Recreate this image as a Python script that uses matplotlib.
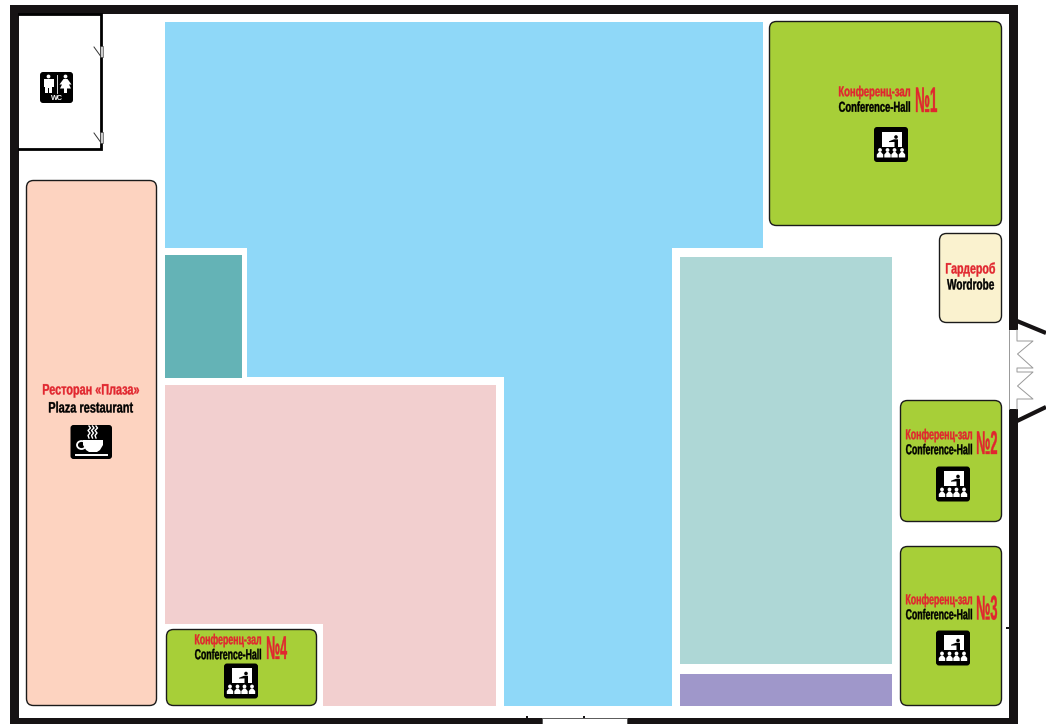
import matplotlib
matplotlib.use('Agg')
import matplotlib.pyplot as plt
from matplotlib.patches import Polygon, Rectangle, FancyBboxPatch, Circle, Ellipse
from matplotlib.text import Text
from matplotlib.textpath import TextPath
from matplotlib.transforms import Affine2D, Bbox
from matplotlib.colors import to_rgba

RED = '#e1262f'
GREEN = '#a7cf38'
WALL = '#161314'

# flat areas, pixel outline of the plan
blue_hall = [(165, 22), (763, 22), (763, 248), (672, 248), (672, 706), (504, 706),
             (504, 377), (247, 377), (247, 248), (165, 248)]
pink_hall = [(165, 385), (496, 385), (496, 706), (323, 706), (323, 624), (165, 624)]
flat_rects = [(165, 255, 77, 123, '#64b3b6'),
              (680, 257, 212, 407, '#aed7d6'),
              (680, 674, 212, 32, '#9f97ca')]

# rounded rooms: x, y, w, h, colour
rooms = [(769, 21, 233, 205, GREEN),
         (900, 400, 102, 122, GREEN),
         (900, 546, 102, 160, GREEN),
         (166, 629, 151, 77, GREEN),
         (939, 233, 63, 90, '#faf2cf'),
         (26, 180, 131, 526, '#fdd3c0')]

# hall labels: text left, text right, red y, black y, number
hall_labels = [(839, 910, 91, 106.5, '№1'),
               (906, 972, 434, 449, '№2'),
               (906, 972, 599, 614, '№3'),
               (195, 261, 639, 654, '№4')]
# number: left, right, y centre, height
hall_numbers = [(916, 937, 99, 26), (977, 997, 442, 24), (977, 997, 607, 25), (267, 287, 647, 24)]
hall_icons = [(891, 144.5), (953, 484), (953, 648), (241, 681)]


class TallText(Text):
    # no condensed font here: size the text to its width, then stretch it up to the cap height
    def __init__(self, x0, x1, y, s, cap=10.5, **kw):
        self.x0, self.x1, self.cap = x0, x1, cap
        kw.setdefault('fontweight', 'bold')
        kw.setdefault('family', 'Liberation Sans')
        super().__init__((x0 + x1) / 2, y, s, ha='center', va='center', **kw)
        unit = TextPath((0, 0), s, size=100, prop=self.get_fontproperties()).get_extents().width / 100
        self.set_fontsize((x1 - x0) / unit * 0.72)

    def _box(self):
        px = self.get_fontsize() * 100 / 72
        path = TextPath((0, 0), self.get_text(), size=px, prop=self.get_fontproperties())
        ext = path.get_extents()
        sy = self.cap / (0.729 * px)
        xa = self.get_transform().transform((self.x0, self.get_position()[1]))
        return path, sy, xa[0] - ext.x0, xa[1] - self.cap / 2

    def draw(self, renderer):
        path, sy, tx, ty = self._box()
        gc = renderer.new_gc()
        gc.set_foreground(self.get_color())
        gc.set_linewidth(0.25)
        renderer.draw_path(gc, path, Affine2D().scale(1, sy).translate(tx, ty), to_rgba(self.get_color()))
        gc.restore()

    def get_window_extent(self, renderer=None, dpi=None):
        path, sy, tx, ty = self._box()
        ext = path.get_extents()
        return Bbox.from_extents(tx + ext.x0, ty + ext.y0 * sy, tx + ext.x1, ty + ext.y1 * sy)


fig = plt.figure(figsize=(10.46, 7.24), dpi=100)
ax = fig.add_axes([0, 0, 1, 1])
ax.set_xlim(0, 1046)
ax.set_ylim(724, 0)
ax.axis('off')


def label(x0, x1, y, s, color, cap=10.5):
    t = TallText(x0, x1, y, s, cap=cap, color=color, zorder=6)
    t.set_transform(ax.transData)
    ax.add_artist(t)


def black_box(x0, y0, x1, y1):
    ax.add_patch(FancyBboxPatch((x0 + 3, y0 + 3), x1 - x0 - 6, y1 - y0 - 6,
                                boxstyle='round,pad=3,rounding_size=3', fc='black', ec='none', zorder=5))


def shape(points, color='white', z=6):
    ax.add_patch(Polygon(points, fc=color, ec='none', zorder=z))


def hall_icon(cx, cy):
    black_box(cx - 17, cy - 17.5, cx + 17, cy + 17.5)
    shape([(cx - 9.5, cy - 13), (cx + 10.5, cy - 13), (cx + 10.5, cy + 2), (cx - 9.5, cy + 2)])
    ax.add_patch(Circle((cx + 5, cy - 7.5), 1.8, fc='black', ec='none', zorder=7))
    shape([(cx - 2, cy - 3.2), (cx + 3, cy - 5.2), (cx + 7, cy - 5.2), (cx + 7, cy + 2.5),
           (cx + 3.5, cy + 2.5), (cx + 3.5, cy - 2.6), (cx - 2, cy - 2.4)], 'black', 7)
    for dx in (-11, -3.5, 3.5, 11):
        ax.add_patch(Circle((cx + dx, cy + 5.5), 1.9, fc='white', ec='none', zorder=6))
        shape([(cx + dx - 3.2, cy + 13), (cx + dx - 3.2, cy + 10), (cx + dx - 1, cy + 7.5),
               (cx + dx + 1, cy + 7.5), (cx + dx + 3.2, cy + 10), (cx + dx + 3.2, cy + 13)])


def coffee_icon(cx, cy):
    black_box(cx - 20.5, cy - 17, cx + 21, cy + 17)
    shape([(cx - 8, cy - 2), (cx + 12, cy - 2), (cx + 12, cy + 3), (cx + 9, cy + 8), (cx + 6, cy + 10),
           (cx - 2, cy + 10), (cx - 5, cy + 8), (cx - 8, cy + 3)])
    ax.add_patch(Ellipse((cx - 9.5, cy + 3), 9, 8, fc='none', ec='white', lw=1.3, zorder=6))
    ax.plot([cx - 15, cx + 16], [cy + 13, cy + 13], color='white', lw=1.4, zorder=6)
    for dx in (-2, 1.5, 5):
        ax.plot([cx + dx + v for v in (0, 1.5, -1, 1, -1, 0)],
                [cy - 16, cy - 14, cy - 11.5, cy - 9, cy - 6.5, cy - 4], color='white', lw=1.0, zorder=6)


def wc_icon(cx, cy):
    black_box(cx - 16.5, cy - 15.5, cx + 16.5, cy + 15.5)
    ax.plot([cx + 0.5, cx + 0.5], [cy - 12.5, cy + 5.5], color='white', lw=0.6, zorder=6)
    # man
    ax.add_patch(Circle((cx - 8, cy - 11), 1.9, fc='white', ec='none', zorder=6))
    shape([(cx - 13, cy - 8.5), (cx - 3, cy - 8.5), (cx - 3, cy - 1), (cx - 4.5, cy - 1), (cx - 4.5, cy + 5.5),
           (cx - 7.5, cy + 5.5), (cx - 7.5, cy + 0), (cx - 8.5, cy + 0), (cx - 8.5, cy + 5.5),
           (cx - 11.5, cy + 5.5), (cx - 11.5, cy - 1), (cx - 13, cy - 1)])
    # woman
    ax.add_patch(Circle((cx + 9, cy - 11), 1.9, fc='white', ec='none', zorder=6))
    shape([(cx + 7, cy - 8.5), (cx + 11, cy - 8.5), (cx + 15, cy - 3), (cx + 12.5, cy - 3), (cx + 14.5, cy + 1),
           (cx + 10.5, cy + 1), (cx + 10.5, cy + 5.5), (cx + 7.5, cy + 5.5), (cx + 7.5, cy + 1),
           (cx + 3.5, cy + 1), (cx + 5.5, cy - 3), (cx + 3, cy - 3)])
    ax.text(cx, cy + 10.5, 'WC', color='white', fontsize=5.2, fontweight='bold', family='Liberation Sans',
            ha='center', va='center', zorder=6)


# flat colour zones
ax.add_patch(Polygon(blue_hall, fc='#8fd8f8', ec='none'))
ax.add_patch(Polygon(pink_hall, fc='#f2cfcf', ec='none'))
for x, y, w, h, c in flat_rects:
    ax.add_patch(Rectangle((x, y), w, h, fc=c, ec='none'))

# rounded rooms, stroke kept inside the outline
for x, y, w, h, c in rooms:
    r = 7
    ax.add_patch(FancyBboxPatch((x + r, y + r), w - 2 * r, h - 2 * r,
                                boxstyle=f'round,pad={r - 0.5},rounding_size={r}',
                                fc=c, ec='#1a1a1a', lw=1.0))

# walls
ax.add_patch(Rectangle((10, 5), 1008, 9, fc=WALL, ec='none'))
ax.add_patch(Rectangle((10, 5), 9, 719, fc=WALL, ec='none'))
ax.add_patch(Rectangle((1009, 5), 9, 719, fc=WALL, ec='none'))
ax.add_patch(Rectangle((10, 717.5), 1008, 6.5, fc=WALL, ec='none'))
ax.add_patch(Rectangle((542, 718), 85, 7, fc='white', ec='#555555', lw=0.6))
for x, y, w, h in [(526, 716, 2, 2), (583, 716, 2, 2), (1006, 627, 3, 2)]:
    ax.add_patch(Rectangle((x, y), w, h, fc=WALL, ec='none'))

# entrance porch
ax.add_patch(Rectangle((1009, 330), 8.5, 79, fc='white', ec='none', zorder=3))
ax.plot([1008.5, 1008.5], [330, 409], color='#888888', lw=0.6, zorder=4)
ax.plot([1017, 1046], [321, 333], color=WALL, lw=3, solid_capstyle='butt')
ax.plot([1017, 1046], [421, 407], color=WALL, lw=3, solid_capstyle='butt')
zig_x = [1017, 1017, 1033, 1017.5, 1033, 1017, 1017, 1033, 1017.5, 1033, 1017, 1017]
zig_y = [330, 341, 341, 354, 368, 368, 372, 372, 386, 399, 399, 409]
ax.plot(zig_x, zig_y, color='#999999', lw=0.7, zorder=4)

# wc room
ax.plot([19, 101, 101, 19], [14, 14, 149, 149], color='black', lw=2.0, solid_joinstyle='miter', zorder=3)
for y0 in (46, 132):
    ax.add_patch(Rectangle((100, y0), 2.5, 11, fc='#cccccc', ec='#333333', lw=0.4, zorder=4))
    ax.plot([94, 100.5], [y0 + 1, y0 + 10], color='#333333', lw=0.7, zorder=4)
wc_icon(56.5, 87.5)

# conference halls
for (x0, x1, y1, y2, num), (n0, n1, ny, nh), (ix, iy) in zip(hall_labels, hall_numbers, hall_icons):
    label(x0, x1, y1, 'Конференц-зал', RED)
    label(x0, x1, y2, 'Conference-Hall', 'black')
    label(n0, n1, ny, num, RED, cap=nh)
    hall_icon(ix, iy)

# wardrobe
label(946, 995, 268, 'Гардероб', RED, cap=11)
label(947, 994, 284, 'Wordrobe', 'black', cap=11)

# restaurant
label(43, 139, 389, 'Ресторан «Плаза»', RED, cap=11)
label(49, 133, 407, 'Plaza restaurant', 'black', cap=11)
coffee_icon(91, 442)

fig.savefig('out.png', dpi=100)
